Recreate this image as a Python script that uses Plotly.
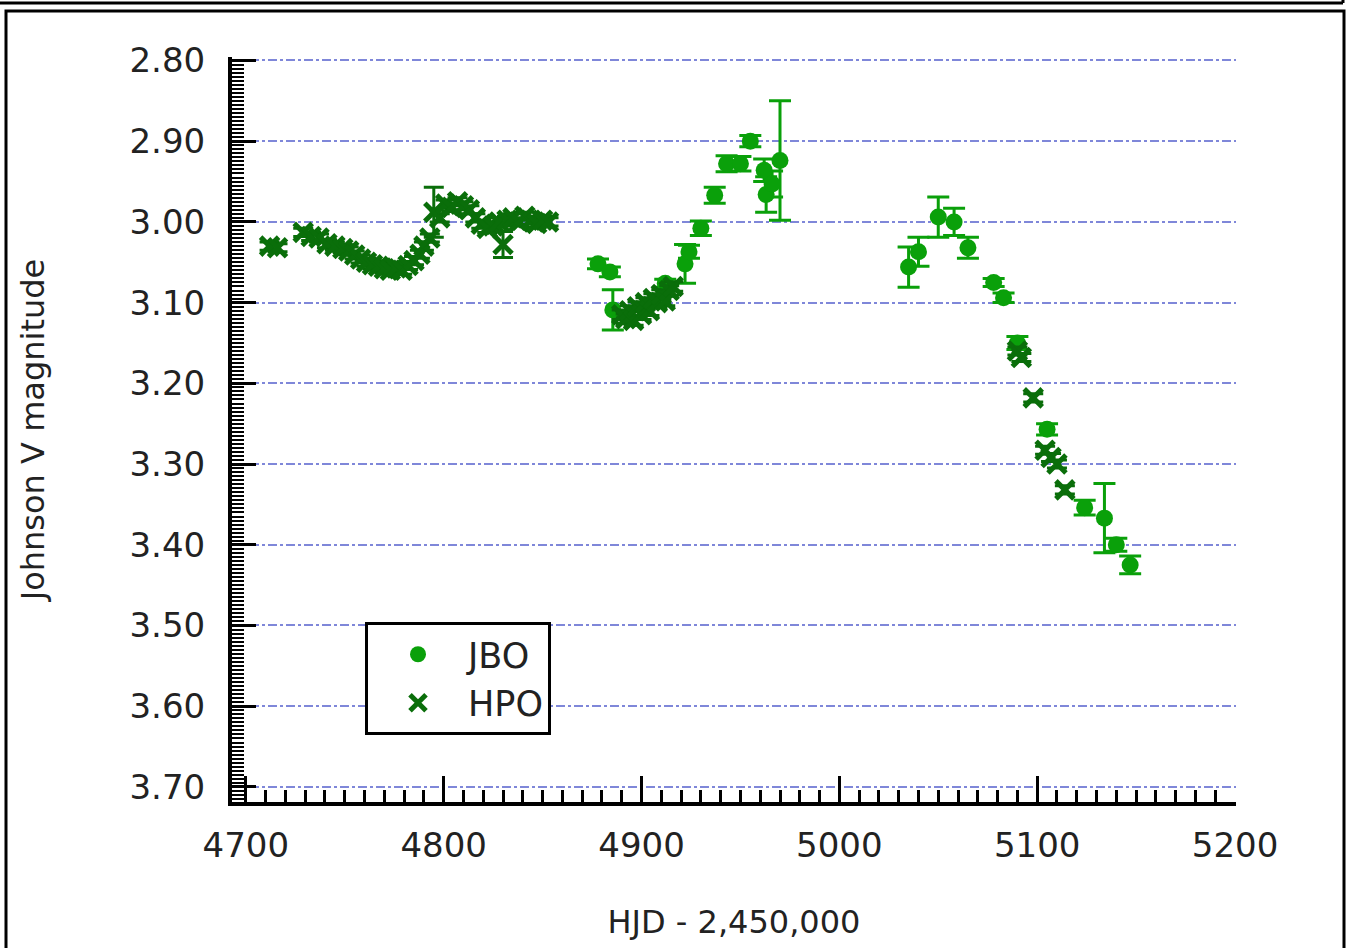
import plotly.graph_objects as go

# JBO photometry: HJD - 2,450,000, Johnson V magnitude, 1-sigma error
jbo_hjd = [4878, 4884, 4885.5, 4912, 4922, 4924, 4930, 4937, 4943, 4950, 4955,
           4962, 4963, 4966, 4970,
           5035, 5040, 5050, 5058, 5065, 5078, 5083, 5090, 5105, 5124, 5134,
           5140, 5147]
jbo_mag = [3.052, 3.062, 3.109, 3.076, 3.052, 3.037, 3.008, 2.967, 2.928, 2.928, 2.900,
           2.936, 2.966, 2.953, 2.924,
           3.056, 3.037, 2.994, 3.000, 3.032, 3.075, 3.094, 3.150, 3.257, 3.354, 3.367,
           3.400, 3.425]
jbo_err = [0.006, 0.006, 0.025, 0.005, 0.024, 0.008, 0.009, 0.010, 0.010, 0.009, 0.007,
           0.014, 0.022, 0.016, 0.074,
           0.025, 0.018, 0.025, 0.017, 0.013, 0.005, 0.006, 0.008, 0.007, 0.009, 0.043,
           0.008, 0.011]

# HPO photometry
hpo_hjd = [4712, 4716, 4729, 4733, 4737, 4741, 4745, 4749, 4752, 4755, 4758, 4761,
           4764, 4767, 4770, 4773, 4776, 4779, 4782, 4785, 4788, 4790, 4793, 4795,
           4798, 4801, 4804, 4807, 4810, 4813, 4816, 4819, 4822, 4825, 4828, 4830,
           4832, 4835, 4838, 4841, 4844, 4847, 4850, 4853,
           4890, 4892, 4894, 4896, 4898, 4900, 4902, 4904, 4906, 4908, 4910, 4912,
           4914, 4916,
           5090, 5092, 5098, 5104, 5107, 5110, 5114]
hpo_mag = [3.030, 3.032, 3.013, 3.018, 3.020, 3.027, 3.030, 3.033, 3.036, 3.041, 3.046, 3.050,
           3.053, 3.055, 3.058, 3.060, 3.057, 3.060, 3.054, 3.048, 3.040, 3.030, 3.020, 2.988,
           2.995, 2.978, 2.982, 2.975, 2.980, 2.985, 2.995, 3.003, 3.008, 3.005, 3.000, 3.028,
           2.998, 2.995, 3.000, 2.993, 2.998, 3.002, 2.998, 3.000,
           3.115, 3.120, 3.110, 3.122, 3.105, 3.115, 3.100, 3.110, 3.095, 3.100, 3.090, 3.098,
           3.085, 3.080,
           3.160, 3.168, 3.218, 3.283, 3.292, 3.300, 3.332]
hpo_err = [0.005] * 23 + [0.031] + [0.005] * 11 + [0.016] + [0.005] * 8 + \
          [0.006] * 14 + [0.005] * 7

y_ticks = [2.8, 2.9, 3.0, 3.1, 3.2, 3.3, 3.4, 3.5, 3.6, 3.7]
y_labels = ["2.80", "2.90", "3.00", "3.10", "3.20", "3.30", "3.40", "3.50", "3.60", "3.70"]
x_ticks = [4700, 4800, 4900, 5000, 5100, 5200]

JBO_COLOR = "#0aa00a"
HPO_COLOR = "#0a6e0a"
TEXT = "#222222"
FONT = "DejaVu Sans"

fig = go.Figure()
fig.add_trace(go.Scatter(
    x=jbo_hjd, y=jbo_mag, mode="markers", name="JBO",
    marker=dict(symbol="circle", size=17, color=JBO_COLOR),
    error_y=dict(type="data", array=jbo_err, visible=True, color=JBO_COLOR,
                 thickness=3, width=11),
))
fig.add_trace(go.Scatter(
    x=hpo_hjd, y=hpo_mag, mode="markers", name="HPO",
    marker=dict(symbol="x-thin", size=18, color=HPO_COLOR,
                line=dict(width=5, color=HPO_COLOR)),
    error_y=dict(type="data", array=hpo_err, visible=True, color=HPO_COLOR,
                 thickness=3, width=10),
))

# plot-area geometry in pixels, used for the surrounding frame
L, T, W, H = 232, 57, 1004, 745
def px(x):
    return (x - L) / W
def py(y):
    return (T + H - y) / H

frame = [
    dict(type="rect", xref="paper", yref="paper", x0=px(6), x1=px(1344),
         y0=py(960), y1=py(11), line=dict(color="black", width=3)),
    dict(type="line", xref="paper", yref="paper", x0=px(-5), x1=px(1343),
         y0=py(3), y1=py(3), line=dict(color="black", width=3)),
    dict(type="line", xref="paper", yref="paper", x0=px(1343), x1=px(1343),
         y0=py(-5), y1=py(3), line=dict(color="black", width=3)),
]

fig.update_layout(
    width=1349, height=948,
    margin=dict(l=L, r=1349 - L - W, t=T, b=948 - T - H),
    paper_bgcolor="white", plot_bgcolor="white",
    font=dict(family=FONT, color=TEXT, size=32),
    showlegend=True,
    legend=dict(x=(365 - L) / W, y=py(622), xanchor="left", yanchor="top",
                bgcolor="white", bordercolor="black", borderwidth=3,
                font=dict(size=35, family=FONT, color=TEXT),
                itemwidth=90, tracegroupgap=0),
    shapes=frame,
    xaxis=dict(
        range=[4693, 5200.5], tickmode="array", tickvals=x_ticks,
        ticks="inside", ticklen=26, tickwidth=3, tickcolor="black",
        minor=dict(dtick=10, ticks="inside", ticklen=12, tickwidth=3, tickcolor="black"),
        showline=True, linewidth=4, linecolor="black", mirror=False,
        showgrid=False, zeroline=False,
        tickfont=dict(size=34, family=FONT, color=TEXT), ticklabelstandoff=10,
        title=dict(text="HJD - 2,450,000", font=dict(size=32, family=FONT, color=TEXT),
                   standoff=48),
    ),
    yaxis=dict(
        range=[3.7187, 2.7957], tickmode="array", tickvals=y_ticks, ticktext=y_labels,
        ticks="inside", ticklen=24, tickwidth=3, tickcolor="black",
        minor=dict(dtick=0.005, ticks="inside", ticklen=12, tickwidth=2,
                   tickcolor="black", showgrid=False),
        showline=True, linewidth=4, linecolor="black",
        showgrid=True, gridcolor="#7f87d9", gridwidth=2, griddash="dashdot",
        zeroline=False,
        tickfont=dict(size=34, family=FONT, color=TEXT), ticklabelstandoff=16,
        title=dict(text="Johnson V magnitude", font=dict(size=32, family=FONT, color=TEXT),
                   standoff=76),
    ),
)

fig.write_html("out.html")
